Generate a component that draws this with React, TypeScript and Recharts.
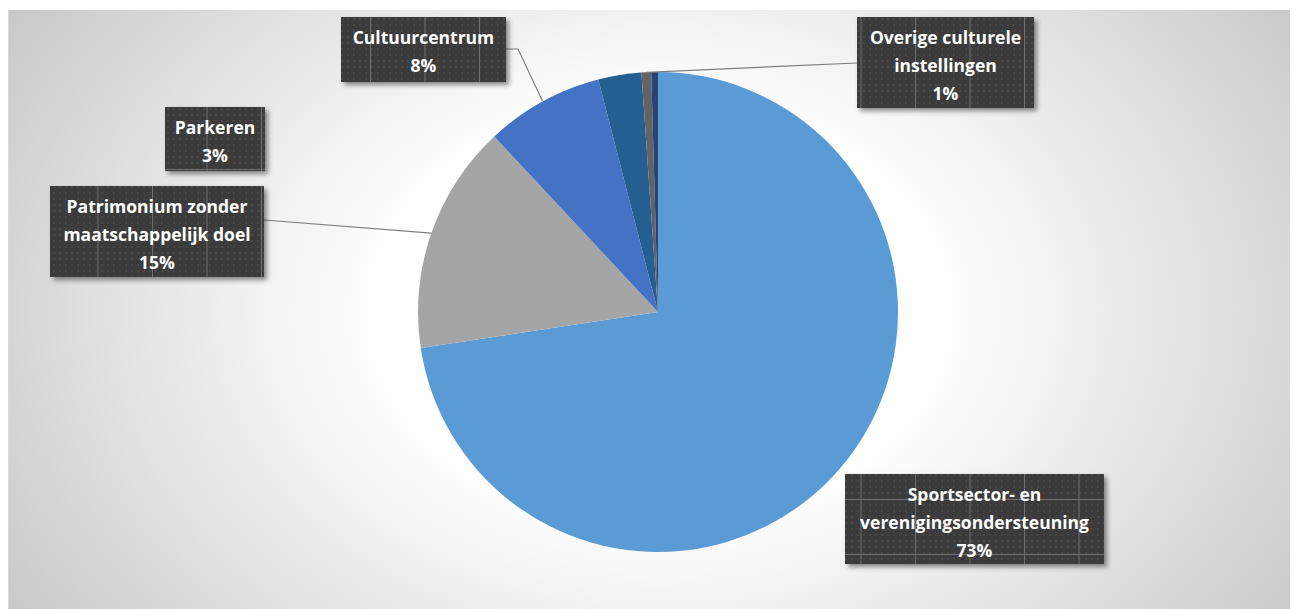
import React from "react";
import { PieChart, Pie, Cell } from "recharts";

// slices, clockwise from 12 o'clock (last slice has no label in the source)
const CATEGORIES = [
  "Sportsector- en verenigingsondersteuning",
  "Patrimonium zonder maatschappelijk doel",
  "Cultuurcentrum",
  "Parkeren",
  "Overige culturele instellingen",
  "",
];
const VALUES = [72.6, 15.45, 7.95, 2.9, 0.65, 0.45];
const LABEL_LINES = [
  ["Sportsector- en", "verenigingsondersteuning"],
  ["Patrimonium zonder", "maatschappelijk doel"],
  ["Cultuurcentrum"],
  ["Parkeren"],
  ["Overige culturele", "instellingen"],
  null,
];

const COLORS = ["#5B9BD5", "#A5A5A5", "#4472C4", "#255E91", "#636363", "#264478"];

const W = 1290;
const H = 599;
const CX = 650;
const CY = 302;
const R = 240;

type Box = { x: number; y: number; w: number; h: number; lx?: number; ly?: number; elbow?: number };

// manual label placement, like the source workbook
const LABEL_BOXES: (Box | null)[] = [
  { x: 836, y: 464, w: 259, h: 90 },
  { x: 41, y: 176, w: 214, h: 91, lx: 214, ly: 34 },
  { x: 332, y: 7, w: 165, h: 65, lx: 165, ly: 32, elbow: 12 },
  { x: 156, y: 97, w: 100, h: 64 },
  { x: 848, y: 7, w: 177, h: 91, lx: 0, ly: 46 },
  null,
];

const data = CATEGORIES.map((name, i) => ({ name, value: VALUES[i] }));

const renderLabel = (props: any) => {
  const { midAngle, index, percent } = props;
  const cx = typeof props.cx === "number" ? props.cx : CX;
  const cy = typeof props.cy === "number" ? props.cy : CY;
  const r = typeof props.outerRadius === "number" ? props.outerRadius : R;
  const box = LABEL_BOXES[index];
  const lines = LABEL_LINES[index];
  if (!box || !lines) return null;
  const rad = (-midAngle * Math.PI) / 180;
  const px = cx + r * Math.cos(rad);
  const py = cy + r * Math.sin(rad);
  const all = [...lines, `${Math.round(percent * 100)}%`];
  let leader = null;
  if (box.lx !== undefined && box.ly !== undefined) {
    const sx = box.x + box.lx;
    const sy = box.y + box.ly;
    const pts = box.elbow
      ? `${sx},${sy} ${sx + box.elbow},${sy} ${px},${py}`
      : `${sx},${sy} ${px},${py}`;
    leader = <polyline points={pts} fill="none" stroke="#7f7f7f" strokeWidth={1.2} />;
  }
  return (
    <g key={`lbl-${index}`}>
      {leader}
      <g filter="url(#boxShadow)">
        <rect x={box.x} y={box.y} width={box.w} height={box.h} fill="url(#dots)" />
      </g>
      <rect x={box.x} y={box.y} width={box.w} height={box.h} fill="url(#grid)" />
      {all.map((t, i) => (
        <text
          key={i}
          x={box.x + box.w / 2}
          y={box.y + 20 + i * 28}
          fill="#ffffff"
          fontSize={17.5}
          fontWeight={700}
          fontFamily="'Open Sans', Lato, sans-serif"
          textAnchor="middle"
          dominantBaseline="central"
        >
          {t}
        </text>
      ))}
    </g>
  );
};

export default function App() {
  return (
    <div
      style={{
        width: W,
        height: H,
        marginTop: 2,
        borderLeft: "1px solid #d8d8d8",
        boxSizing: "border-box",
        background:
          "radial-gradient(ellipse 760px 560px at 650px 302px, #ffffff 0%, #fefefe 38%, #e2e2e2 72%, #c9c9c9 100%)",
      }}
    >
      <PieChart width={W - 1} height={H} margin={{ top: 0, right: 0, bottom: 0, left: 0 }}>
        <defs>
          <pattern id="dots" width="6" height="6" patternUnits="userSpaceOnUse">
            <rect width="6" height="6" fill="#3a3a3a" />
            <circle cx="3" cy="3" r="0.9" fill="#4d4d4d" />
          </pattern>
          <pattern id="grid" width="54.5" height="55" patternUnits="userSpaceOnUse" x="34" y="-6">
            <line x1="0.5" y1="0" x2="0.5" y2="55" stroke="#6e6e6e" strokeWidth="1" />
            <line x1="0" y1="0.5" x2="54.5" y2="0.5" stroke="#6e6e6e" strokeWidth="1" />
          </pattern>
          <filter id="boxShadow" x="-10%" y="-10%" width="130%" height="140%">
            <feDropShadow dx="3" dy="3" stdDeviation="2.5" floodColor="#000" floodOpacity="0.45" />
          </filter>
        </defs>
        <Pie
          data={data}
          dataKey="value"
          nameKey="name"
          cx={CX - 1}
          cy={CY}
          outerRadius={R}
          startAngle={90}
          endAngle={-270}
          stroke="none"
          label={renderLabel}
          labelLine={false}
          isAnimationActive={false}
        >
          {data.map((d, i) => (
            <Cell key={d.name + i} fill={COLORS[i]} />
          ))}
        </Pie>
      </PieChart>
    </div>
  );
}
